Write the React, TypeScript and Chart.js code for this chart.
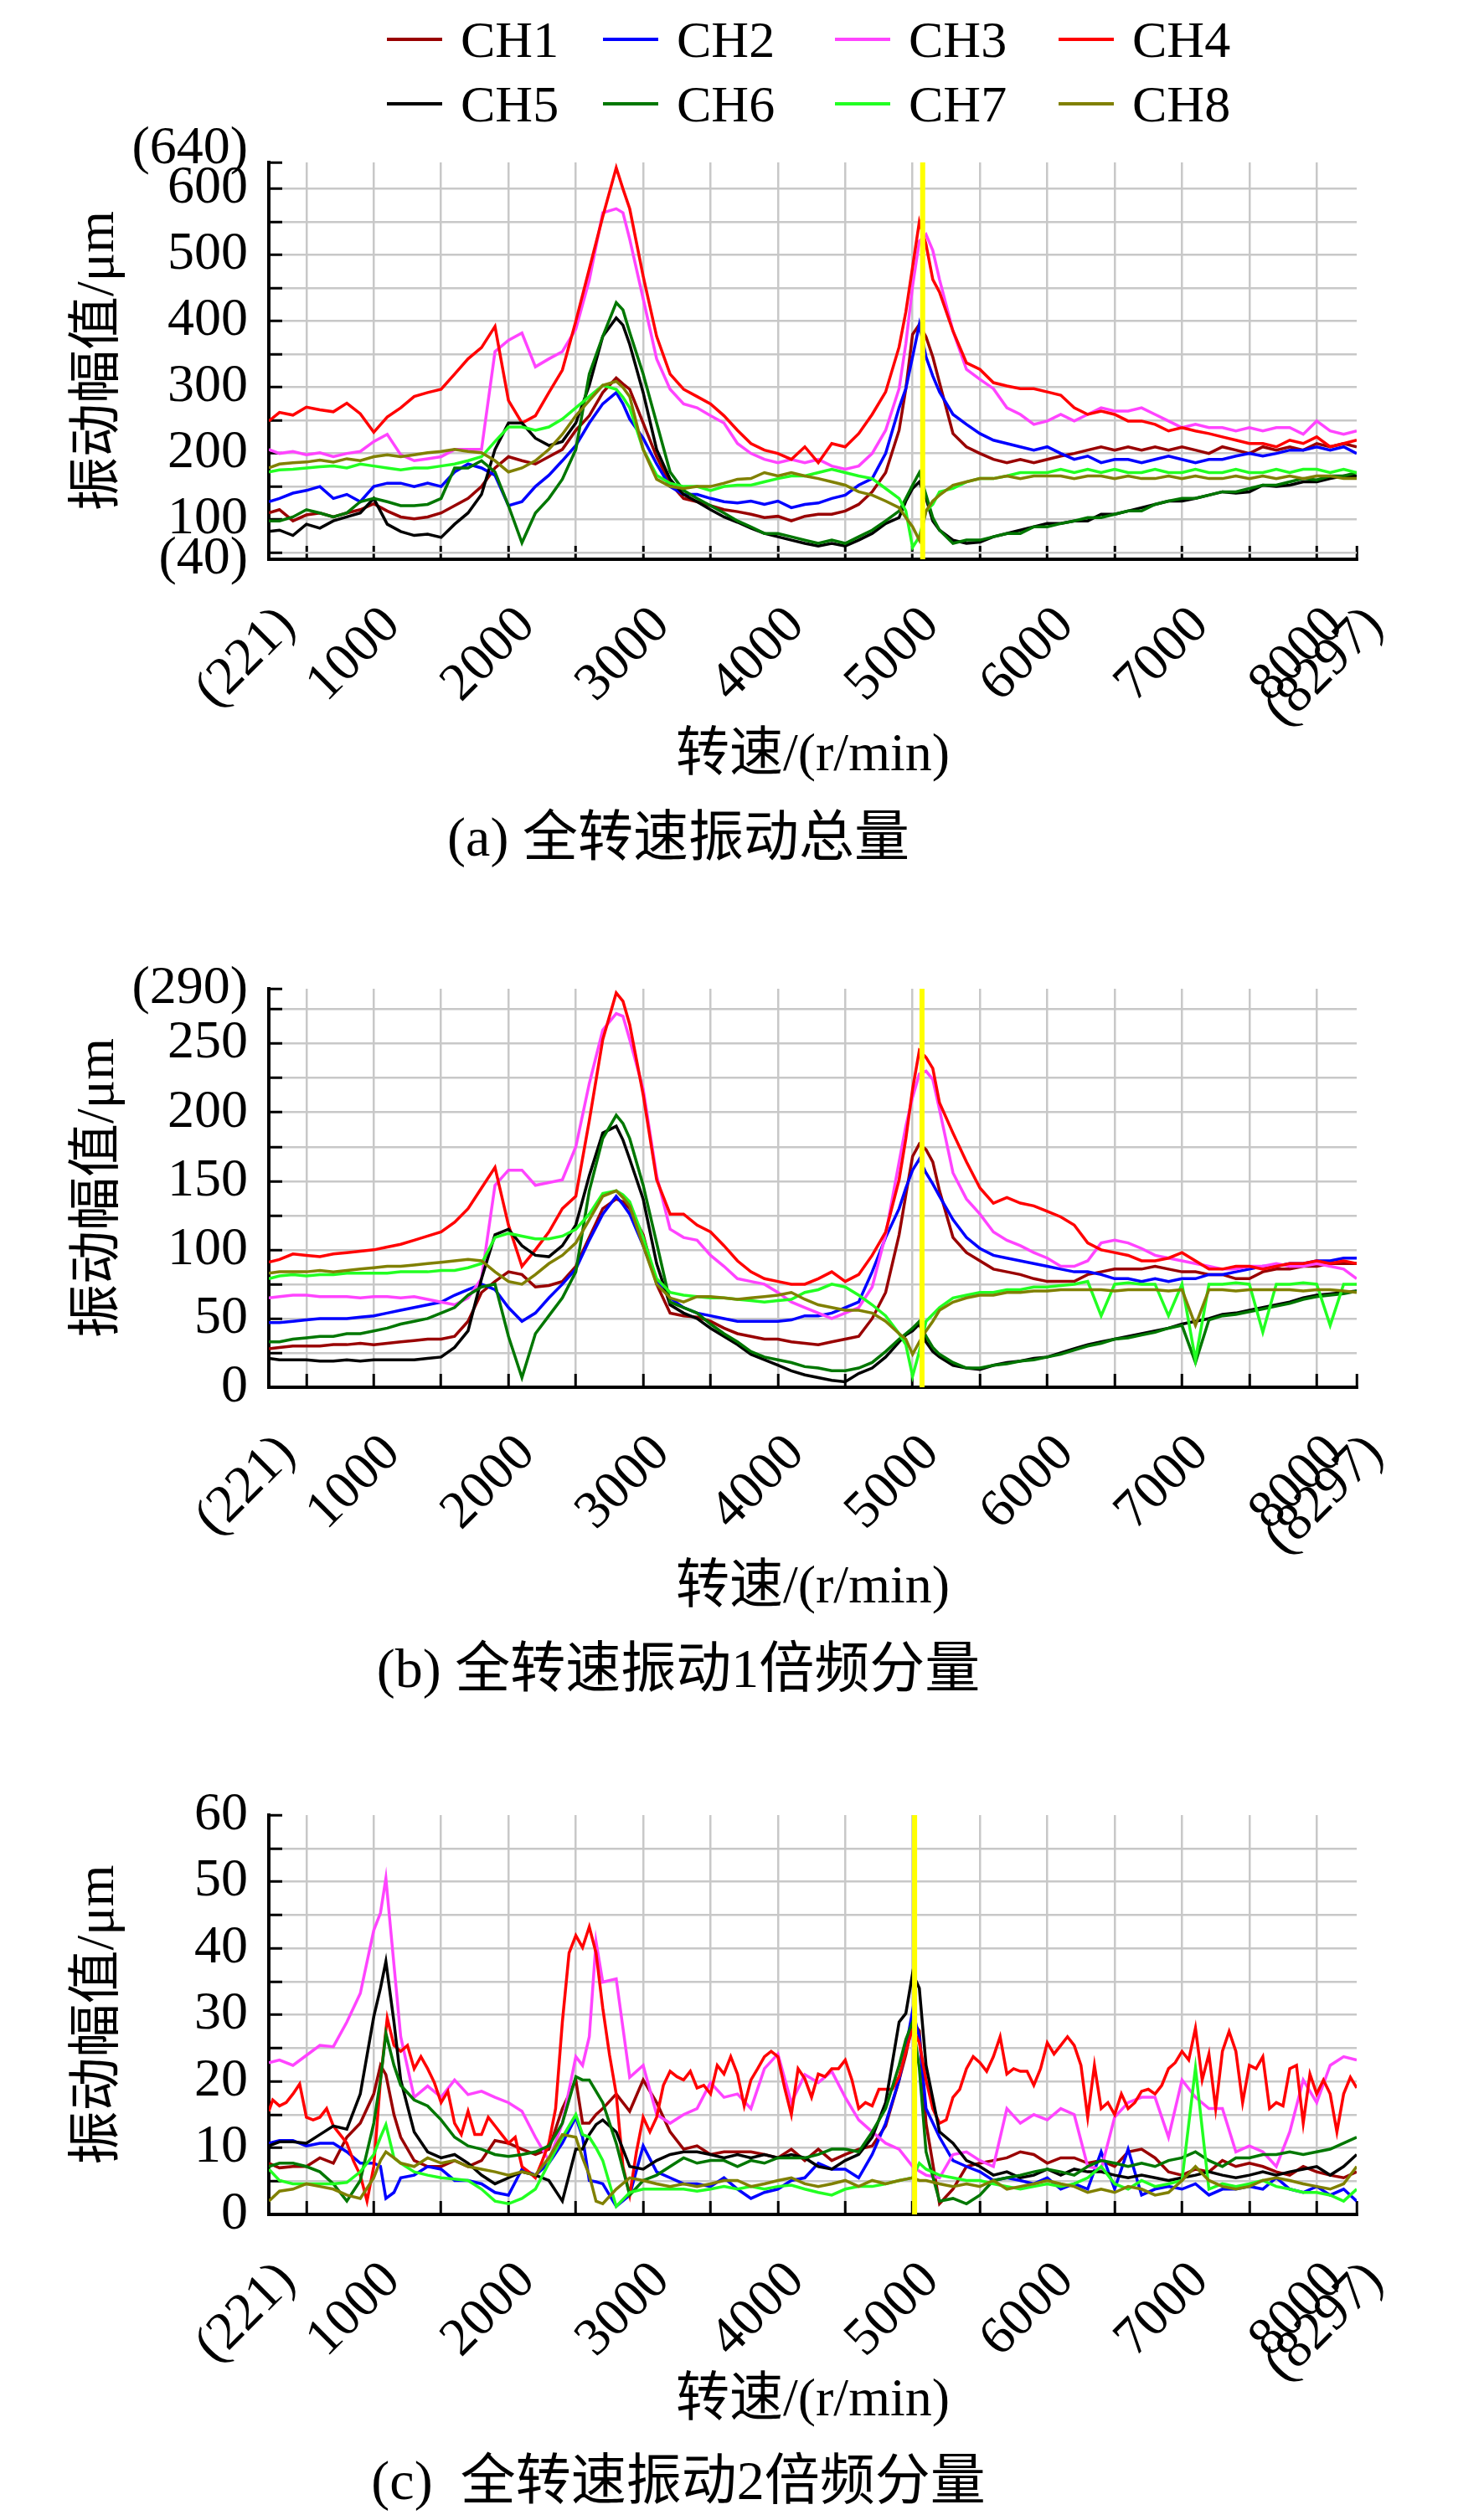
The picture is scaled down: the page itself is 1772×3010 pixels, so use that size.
import { useEffect, useRef } from "react";
import Chart from "chart.js/auto";

const FONT = '"Liberation Serif", "Noto Sans CJK SC", serif';
const GRID = "#c8c8c8";

const channels = ["CH1", "CH2", "CH3", "CH4", "CH5", "CH6", "CH7", "CH8"];
const colors = ["#990000", "#0000ff", "#ff44ff", "#ff0000", "#000000", "#007700", "#22ff22", "#808000"];

// rpm grid used by panels (a) and (b)
const rpmAB = [
  221, 300, 400, 500, 600, 700, 800, 900, 1000, 1100,
  1200, 1300, 1400, 1500, 1600, 1700, 1800, 1900, 2000, 2100,
  2200, 2300, 2400, 2500, 2600, 2700, 2800, 2850, 2900, 3000,
  3100, 3200, 3300, 3400, 3500, 3600, 3700, 3800, 3900, 4000,
  4100, 4200, 4300, 4400, 4500, 4600, 4700, 4800, 4900, 4950,
  5000, 5050, 5100, 5150, 5200, 5300, 5400, 5500, 5600, 5700,
  5800, 5900, 6000, 6100, 6200, 6300, 6400, 6500, 6600, 6700,
  6800, 6900, 7000, 7100, 7200, 7300, 7400, 7500, 7600, 7700,
  7800, 7900, 8000, 8100, 8200, 8297,
];

// rpm grid used by panel (c)
const rpmC = [
  221, 300, 400, 500, 600, 700, 800, 900, 1000, 1050,
  1090, 1150, 1200, 1300, 1400, 1500, 1600, 1700, 1800, 1900,
  2000, 2100, 2200, 2300, 2400, 2500, 2550, 2600, 2650, 2700,
  2800, 2900, 3000, 3100, 3200, 3300, 3400, 3500, 3600, 3700,
  3800, 3900, 4000, 4100, 4200, 4300, 4400, 4500, 4600, 4700,
  4800, 4900, 4950, 5000, 5050, 5100, 5200, 5300, 5400, 5500,
  5600, 5700, 5800, 5900, 6000, 6100, 6200, 6300, 6400, 6500,
  6600, 6700, 6800, 6900, 7000, 7100, 7200, 7300, 7400, 7500,
  7600, 7700, 7800, 7900, 8000, 8100, 8200, 8297,
];

// finer grid for the very jagged CH4 trace in panel (c)
const rpmCFine = [
  221, 250, 300, 350, 400, 450, 500, 550, 600, 650,
  700, 750, 800, 850, 900, 950, 1000, 1050, 1100, 1150,
  1200, 1250, 1300, 1350, 1400, 1450, 1500, 1550, 1600, 1650,
  1700, 1750, 1800, 1850, 1900, 1950, 2000, 2050, 2100, 2150,
  2200, 2250, 2300, 2350, 2400, 2450, 2500, 2550, 2600, 2650,
  2700, 2750, 2800, 2850, 2900, 2950, 3000, 3050, 3100, 3150,
  3200, 3250, 3300, 3350, 3400, 3450, 3500, 3550, 3600, 3650,
  3700, 3750, 3800, 3850, 3900, 3950, 4000, 4050, 4100, 4150,
  4200, 4250, 4300, 4350, 4400, 4450, 4500, 4550, 4600, 4650,
  4700, 4750, 4800, 4850, 4900, 4950, 5000, 5050, 5100, 5150,
  5200, 5250, 5300, 5350, 5400, 5450, 5500, 5550, 5600, 5650,
  5700, 5750, 5800, 5850, 5900, 5950, 6000, 6050, 6100, 6150,
  6200, 6250, 6300, 6350, 6400, 6450, 6500, 6550, 6600, 6650,
  6700, 6750, 6800, 6850, 6900, 6950, 7000, 7050, 7100, 7150,
  7200, 7250, 7300, 7350, 7400, 7450, 7500, 7550, 7600, 7650,
  7700, 7750, 7800, 7850, 7900, 7950, 8000, 8050, 8100, 8150,
  8200, 8250, 8297,
];

// (a) overall vibration, um
const totalCH1 = [
  110, 115, 98, 107, 110, 104, 110, 115, 124, 113,
  104, 101, 104, 110, 121, 132, 150, 178, 195, 189,
  184, 195, 206, 235, 257, 292, 314, 305, 297, 246,
  195, 155, 132, 127, 121, 115, 112, 108, 103, 105,
  98, 105, 108, 108, 113, 123, 142, 171, 235, 298,
  380, 395, 376, 346, 307, 230, 210, 200, 191, 186,
  191, 186, 191, 196, 200, 205, 210, 205, 210, 205,
  210, 205, 210, 205, 200, 210, 205, 200, 210, 205,
  210, 205, 215, 210, 215, 210,
];
const totalCH2 = [
  127, 132, 140, 144, 150, 132, 138, 127, 150, 155,
  155, 150, 155, 150, 172, 184, 178, 167, 121, 127,
  150, 167, 189, 212, 246, 275, 292, 275, 252, 223,
  184, 150, 138, 138, 132, 127, 125, 128, 123, 128,
  118, 123, 125, 132, 137, 152, 162, 200, 269, 298,
  346, 395, 346, 317, 293, 259, 244, 230, 220, 215,
  210, 205, 210, 200, 191, 196, 186, 191, 191, 186,
  191, 196, 191, 186, 191, 191, 196, 200, 196, 200,
  205, 205, 210, 205, 210, 200,
];
const totalCH3 = [
  206, 200, 203, 198, 201, 195, 200, 203, 218, 229,
  198, 189, 192, 195, 206, 206, 206, 354, 371, 382,
  331, 343, 354, 388, 462, 564, 570, 564, 524, 434,
  343, 297, 275, 269, 257, 246, 215, 200, 191, 186,
  191, 186, 191, 181, 176, 181, 200, 235, 298, 366,
  453, 521, 531, 507, 463, 385, 327, 312, 298, 269,
  259, 244, 249, 259, 249, 259, 269, 264, 264, 269,
  259, 249, 239, 244, 239, 239, 234, 239, 234, 239,
  239, 229, 249, 234, 229, 234,
];
const totalCH4 = [
  249, 262, 258, 270, 266, 263, 276, 260, 232, 255,
  269, 286, 292, 297, 320, 343, 360, 392, 280, 246,
  257, 292, 326, 400, 479, 558, 632, 600, 570, 468,
  377, 320, 297, 286, 275, 257, 235, 215, 205, 200,
  191, 210, 186, 215, 210, 230, 259, 293, 361, 414,
  482, 550, 516, 463, 444, 385, 337, 327, 307, 302,
  298, 298, 293, 288, 269, 259, 264, 259, 249, 249,
  244, 234, 239, 234, 230, 225, 220, 215, 215, 210,
  220, 215, 225, 210, 215, 220,
];
const totalCH5 = [
  82, 84, 76, 93, 87, 98, 104, 110, 132, 93,
  82, 76, 78, 73, 93, 110, 138, 206, 246, 246,
  223, 212, 218, 246, 303, 377, 405, 394, 365, 292,
  206, 161, 138, 127, 115, 104, 96, 87, 79, 74,
  69, 64, 60, 64, 60, 69, 79, 94, 103, 128,
  147, 157, 132, 98, 84, 69, 64, 66, 74, 79,
  84, 89, 94, 94, 98, 98, 108, 108, 113, 118,
  123, 128, 128, 132, 137, 142, 140, 142, 152, 150,
  152, 157, 157, 162, 166, 166,
];
const totalCH6 = [
  98, 98, 104, 115, 110, 104, 110, 127, 132, 127,
  121, 121, 123, 132, 178, 178, 189, 172, 121, 65,
  110, 132, 161, 206, 320, 377, 428, 417, 383, 320,
  246, 172, 144, 132, 121, 110, 98, 89, 79, 79,
  74, 69, 64, 69, 64, 74, 84, 98, 113, 132,
  152, 171, 137, 103, 84, 64, 69, 69, 74, 79,
  79, 89, 89, 94, 98, 103, 103, 108, 113, 113,
  123, 128, 132, 132, 137, 142, 142, 147, 152, 152,
  157, 162, 160, 166, 166, 171,
];
const totalCH7 = [
  172, 175, 176, 178, 180, 181, 178, 184, 181, 178,
  175, 178, 178, 181, 184, 189, 195, 218, 240, 240,
  235, 240, 252, 269, 286, 303, 297, 285, 269, 206,
  167, 155, 150, 150, 144, 150, 152, 152, 157, 162,
  166, 166, 171, 176, 171, 166, 162, 147, 132, 113,
  58, 74, 113, 123, 142, 147, 157, 162, 162, 166,
  171, 171, 171, 176, 171, 176, 171, 176, 171, 171,
  176, 171, 171, 176, 171, 171, 176, 171, 171, 176,
  171, 176, 176, 171, 176, 171,
];
const totalCH8 = [
  178, 184, 186, 187, 190, 187, 192, 189, 195, 198,
  195, 198, 201, 203, 206, 203, 201, 189, 172, 178,
  189, 206, 229, 257, 280, 303, 309, 300, 286, 206,
  161, 150, 147, 150, 150, 155, 161, 162, 171, 166,
  171, 166, 162, 157, 152, 142, 137, 128, 118, 103,
  89, 69, 113, 128, 137, 152, 157, 162, 162, 166,
  162, 166, 166, 166, 162, 166, 166, 162, 166, 162,
  162, 166, 162, 166, 162, 162, 166, 162, 166, 162,
  166, 162, 166, 166, 162, 162,
];

// (b) 1x component, um
const order1CH1 = [
  28, 29, 30, 30, 30, 31, 31, 32, 31, 32,
  33, 34, 35, 35, 37, 48, 69, 77, 84, 82,
  73, 74, 77, 88, 109, 130, 137, 135, 130, 111,
  75, 54, 52, 51, 48, 43, 39, 37, 35, 35,
  33, 32, 31, 33, 35, 37, 50, 69, 111, 140,
  168, 177, 173, 164, 143, 109, 98, 92, 86, 84,
  82, 79, 77, 77, 77, 82, 84, 86, 86, 86,
  88, 86, 84, 84, 82, 82, 79, 79, 84, 86,
  86, 88, 88, 90, 90, 90,
];
const order1CH2 = [
  47, 47, 48, 49, 50, 50, 50, 51, 52, 54,
  56, 58, 60, 62, 67, 71, 75, 71, 58, 48,
  54, 65, 75, 86, 107, 126, 139, 133, 126, 103,
  77, 65, 58, 54, 52, 50, 48, 48, 48, 48,
  49, 52, 52, 54, 58, 62, 84, 109, 130, 145,
  158, 166, 156, 148, 139, 122, 109, 101, 96, 94,
  92, 90, 88, 86, 84, 84, 82, 79, 79, 77,
  79, 77, 79, 79, 82, 82, 84, 86, 88, 88,
  90, 90, 92, 92, 94, 94,
];
const order1CH3 = [
  65, 66, 67, 67, 66, 66, 66, 65, 66, 66,
  65, 66, 64, 62, 60, 65, 79, 147, 158, 158,
  147, 149, 151, 175, 221, 260, 272, 270, 253, 217,
  154, 115, 109, 107, 96, 88, 79, 77, 75, 69,
  62, 58, 54, 50, 54, 58, 73, 111, 164, 190,
  211, 228, 230, 224, 202, 156, 137, 126, 113, 107,
  103, 98, 94, 88, 88, 92, 105, 107, 105, 101,
  96, 94, 92, 90, 88, 86, 86, 88, 88, 90,
  88, 88, 90, 88, 86, 79,
];
const order1CH4 = [
  91, 93, 97, 96, 95, 97, 98, 99, 100, 102,
  104, 107, 110, 113, 120, 130, 145, 160, 118, 88,
  100, 113, 130, 139, 194, 253, 287, 281, 264, 213,
  151, 126, 126, 118, 113, 103, 92, 84, 79, 77,
  75, 75, 79, 84, 77, 82, 96, 113, 151, 181,
  217, 245, 240, 232, 207, 185, 164, 145, 134, 138,
  134, 132, 128, 124, 118, 105, 100, 98, 96, 92,
  92, 94, 98, 92, 86, 86, 88, 88, 86, 88,
  90, 90, 92, 90, 92, 90,
];
const order1CH5 = [
  21, 20, 20, 20, 19, 19, 20, 19, 20, 20,
  20, 20, 21, 22, 29, 41, 79, 111, 115, 103,
  96, 95, 103, 118, 154, 185, 190, 180, 166, 137,
  90, 60, 54, 50, 43, 37, 31, 24, 20, 16,
  12, 9, 7, 5, 4, 10, 14, 22, 33, 38,
  41, 46, 33, 26, 22, 16, 14, 13, 16, 18,
  19, 21, 22, 25, 28, 31, 33, 35, 37, 39,
  41, 43, 46, 48, 50, 53, 54, 56, 58, 60,
  62, 65, 67, 68, 69, 70,
];
const order1CH6 = [
  33, 33, 35, 36, 37, 37, 39, 39, 41, 43,
  46, 48, 50, 54, 58, 67, 73, 75, 37, 7,
  39, 52, 65, 84, 143, 181, 198, 192, 181, 147,
  105, 62, 58, 54, 46, 39, 33, 26, 22, 20,
  18, 15, 14, 12, 12, 14, 18, 26, 35, 39,
  43, 48, 37, 29, 24, 18, 14, 14, 16, 17,
  19, 20, 22, 24, 27, 30, 32, 35, 36, 38,
  40, 43, 45, 18, 49, 52, 53, 55, 57, 59,
  61, 64, 66, 67, 68, 70,
];
const order1CH7 = [
  79, 81, 82, 81, 82, 82, 83, 83, 83, 83,
  84, 84, 84, 85, 85, 87, 90, 109, 112, 110,
  108, 108, 110, 115, 126, 141, 143, 140, 135, 109,
  79, 69, 67, 66, 65, 65, 64, 63, 62, 63,
  64, 69, 71, 75, 73, 67, 60, 52, 39, 31,
  8, 26, 48, 53, 58, 65, 67, 69, 69, 71,
  71, 73, 73, 74, 75, 77, 52, 75, 76, 75,
  75, 52, 75, 20, 75, 75, 76, 75, 40, 75,
  75, 76, 75, 45, 75, 75,
];
const order1CH8 = [
  83, 84, 84, 84, 85, 84, 85, 86, 87, 88,
  88, 89, 90, 91, 92, 93, 92, 84, 77, 75,
  82, 90, 96, 105, 122, 139, 143, 138, 132, 103,
  75, 65, 62, 66, 66, 65, 64, 65, 66, 67,
  69, 64, 60, 58, 56, 56, 54, 48, 39, 35,
  24, 33, 41, 48, 56, 62, 65, 67, 67, 69,
  69, 70, 70, 71, 71, 71, 71, 70, 71, 71,
  71, 70, 71, 45, 71, 71, 70, 71, 71, 71,
  71, 70, 71, 71, 70, 69,
];

// (c) 2x component, um
const order2CH1 = [
  7.7, 7, 7.2, 7.2, 8.5, 7.7, 11.6, 13.7, 18.1, 22.4,
  21, 15, 11.6, 8.1, 7.2, 7.2, 8.1, 7.2, 8.1, 11.1,
  10.7, 9.8, 9, 9.8, 15.9, 20.2, 13.7, 13.7, 15, 15.9,
  18.1, 15.5, 20.2, 16.8, 12.4, 9.8, 10.3, 9, 9.4, 9.4,
  9.4, 9, 8.5, 9.8, 8.1, 9.8, 8.1, 9, 9.8, 10.3,
  13.3, 20.2, 24, 28.9, 27.6, 13.7, 1.6, 3.8, 7.2, 7.7,
  8.1, 8.5, 9.4, 9, 7.7, 8.5, 8.5, 7.7, 8.1, 7.2,
  9.4, 9.8, 8.5, 6.4, 5.9, 6.8, 6.4, 8.1, 7.2, 7.7,
  7.2, 6.4, 5.9, 7.2, 6.4, 5.9, 5.5, 6.4,
];
const order2CH2 = [
  10.7, 11.1, 11.1, 10.3, 10.7, 10.7, 9.4, 7.7, 7.7, 7.2,
  2.4, 3.3, 5.5, 5.9, 7.2, 6.8, 5.1, 5.1, 4.6, 3.3,
  2.9, 6.8, 5.9, 7.7, 10.7, 14.6, 11.6, 5.1, 4.9, 4.6,
  1.2, 2.9, 10.3, 6.4, 5.5, 4.6, 4.6, 4.2, 5.5, 3.8,
  2.4, 3.3, 3.8, 5.1, 5.5, 7.7, 6.8, 6.8, 5.5, 9,
  13.7, 20.2, 25, 30.6, 26.7, 15.9, 11.6, 8.1, 7.2, 6.4,
  5.1, 5.5, 5.1, 4.6, 5.5, 3.8, 4.6, 3.8, 9.4, 3.8,
  9.8, 2.9, 3.8, 4.2, 3.8, 4.6, 2.9, 3.8, 3.8, 4.2,
  3.8, 5.5, 3.8, 3.3, 4.2, 2.9, 3.8, 2,
];
const order2CH3 = [
  22.8, 23.2, 22.4, 23.9, 25.4, 25.2, 28.9, 33.2, 42.7, 45.3,
  50.5, 37.5, 26.7, 17.6, 19.3, 17.6, 20.2, 18, 18.5, 17.6,
  16.8, 15.5, 11.6, 8.1, 13.7, 23.7, 22.4, 26.7, 41, 34.9,
  35.4, 20.6, 22.4, 15, 13.7, 15, 15.9, 19.8, 17.6, 18.1,
  15.9, 21.9, 24.1, 16.8, 21, 19.8, 21.5, 17.6, 14.2, 12.4,
  10.7, 9.8, 8.5, 7.2, 6.5, 5.9, 5.5, 9, 9.4, 8.1,
  7.2, 15.9, 13.7, 15, 14.2, 15.9, 15, 7.2, 6.8, 14.6,
  16.8, 17.6, 17.6, 11.6, 20.2, 17.6, 15.9, 15.9, 9.4, 10.3,
  9.4, 7.2, 12.4, 20.2, 16.8, 22.4, 23.7, 23.2,
];
const order2CH4 = [
  15.5, 17.2, 16.3, 16.8, 18.1, 19.6, 14.6, 14.2, 14.6, 15.9,
  13.3, 12, 10.7, 8, 5.9, 2, 7.2, 20.2, 29.5, 25.4,
  24.5, 25.4, 21.9, 23.7, 21.9, 19.8, 16.8, 18.5, 13.7, 12,
  15.5, 12, 12, 14.6, 13.3, 12, 10.7, 11.6, 7.2, 6.4,
  5.5, 8, 10.7, 15.9, 28.9, 39.3, 41.9, 40.1, 43.2, 39.3,
  31, 24, 18.1, 7.2, 2.9, 9.4, 14.6, 12.4, 14.6, 19.4,
  21.5, 20.7, 20.2, 21.5, 19, 19.4, 18.1, 22.4, 21.1, 23.7,
  21.1, 16.3, 20.2, 21.9, 23.7, 24.5, 23.7, 19, 15, 21.9,
  20.4, 17.6, 21.1, 20.7, 21.9, 21.9, 23.2, 20.2, 15.9, 16.8,
  16.3, 18.8, 18.8, 18.8, 20.7, 24.5, 28, 25.8, 20.2, 15.9,
  13.7, 14.2, 17.6, 18.8, 21.9, 23.7, 22.8, 21.5, 23.7, 26.7,
  21.1, 21.9, 21.5, 21.5, 19.4, 21.9, 25.8, 24.1, 25.4, 26.7,
  25.4, 22.4, 14.6, 22.4, 15.9, 16.8, 15, 18.1, 15.9, 16.8,
  18.5, 18.8, 18.1, 19.4, 21.9, 22.8, 24.5, 23.2, 28, 20.2,
  24.1, 15.9, 24.5, 27.5, 24.5, 16.8, 22.4, 21.9, 23.7, 15.9,
  16.8, 16.3, 21.9, 22.4, 13.7, 21.1, 18.1, 20.2, 18.1, 12.4,
  18.1, 20.6, 19,
];
const order2CH5 = [
  10.3, 10.9, 10.9, 10.7, 12, 13.3, 12.8, 18.1, 29.7, 34,
  38, 28.9, 20.2, 12.4, 9.4, 8.5, 9, 7.7, 5.9, 4.6,
  5.5, 6.4, 5.9, 5.1, 2, 9.8, 9.8, 12, 13.5, 14.2,
  12.4, 7.2, 6.8, 8.1, 9, 9.4, 9.4, 9, 8.5, 9,
  8.5, 9, 8.5, 9, 8.5, 7.2, 6.8, 8.1, 9, 11.6,
  16.8, 28.9, 30.2, 36.2, 34, 22.4, 12.4, 10.7, 8.1, 7.2,
  5.9, 6.4, 5.5, 5.9, 6.8, 5.9, 6.8, 6.4, 6.4, 5.9,
  5.5, 5.9, 5.5, 5.1, 5.5, 5.9, 6.4, 5.9, 5.5, 5.9,
  6.4, 5.9, 6.4, 6.8, 7.2, 5.9, 7.2, 9,
];
const order2CH6 = [
  7.2, 7.7, 7.7, 7.2, 6.4, 4.6, 2, 5.1, 13.7, 20.2,
  27.2, 22.4, 19.4, 17.2, 16.3, 14.2, 11.6, 10.3, 9.8, 9,
  8.7, 9, 9.4, 10.3, 13.7, 20.7, 20.2, 20.2, 18.5, 16.8,
  10.7, 2.9, 5.1, 5.9, 7.2, 8.5, 7.7, 8.1, 8.1, 7.2,
  8.1, 7.7, 8.5, 8.5, 8.5, 9, 9.8, 9.8, 9.4, 12.4,
  15.9, 22.4, 26.3, 28.9, 22, 9.4, 2, 2.4, 1.6, 2.9,
  5.1, 5.5, 5.9, 6.4, 6.8, 6.4, 5.9, 7.2, 8.1, 7.7,
  7.2, 7.7, 7.2, 8.1, 8.5, 9.4, 8.1, 7.2, 8.5, 8.5,
  9, 9, 9.4, 9, 9.4, 9.8, 10.7, 11.6,
];
const order2CH7 = [
  6.8, 5.1, 4.6, 4.6, 4.6, 4.6, 4.8, 6.4, 9, 11.6,
  13.5, 8.5, 7.7, 6.4, 5.9, 5.5, 5.3, 5.1, 3.8, 2,
  1.6, 2.4, 3.8, 7.7, 11.6, 15, 12, 11.6, 10, 8.1,
  1.2, 3.3, 3.8, 3.8, 3.8, 3.8, 3.5, 3.8, 4.2, 3.8,
  4.2, 3.8, 4.2, 4.4, 3.8, 3.3, 2.9, 3.8, 4.2, 4.2,
  4.6, 5.1, 5.3, 5.5, 7.7, 6.8, 5.9, 5.5, 5.1, 5.1,
  4.6, 4.2, 3.8, 4.2, 4.6, 4.2, 4.6, 5.5, 7.2, 4.6,
  3.8, 5.1, 4.2, 4.6, 5.1, 22, 3.8, 4.6, 4.2, 4.6,
  5.1, 4.2, 3.8, 3.3, 3.3, 2.9, 2, 3.8,
];
const order2CH8 = [
  2, 3.5, 3.8, 4.6, 4.2, 3.8, 2.9, 2.4, 5.5, 8.1,
  9.4, 8.5, 7.7, 7.2, 8.5, 7.7, 8.1, 7.2, 6.8, 6.4,
  5.9, 6.4, 5.9, 8.5, 12, 11.6, 8.5, 5.9, 2, 1.6,
  3.8, 5.5, 5.1, 4.6, 4.2, 4.6, 4.2, 4.6, 5.1, 5.1,
  4.2, 4.6, 5.1, 5.5, 4.6, 4.2, 4.6, 5.1, 4.2, 5.1,
  4.6, 5.1, 5.3, 5.5, 5.1, 5.1, 4.6, 4.2, 4.6, 4.2,
  5.1, 3.8, 4.2, 4.6, 5.1, 4.6, 4.2, 3.3, 3.8, 3.3,
  4.2, 3.8, 2.9, 3.3, 5.1, 7.2, 5.1, 4.2, 3.8, 4.2,
  5.1, 5.5, 5.1, 4.6, 4.2, 3.8, 4.6, 7.2,
];

const xTicks = [221, 500, 1000, 1500, 2000, 2500, 3000, 3500, 4000, 4500, 5000, 5500, 6000, 6500, 7000, 7500, 8000, 8297];
const yTicksTotal = [40, 50, 100, 150, 200, 250, 300, 350, 400, 450, 500, 550, 600, 640];
const yTicksOrder1 = [0, 25, 50, 75, 100, 125, 150, 175, 200, 225, 250, 275, 290];
const yTicksOrder2 = [0, 5, 10, 15, 20, 25, 30, 35, 40, 45, 50, 55, 60];

const xLabel = (v: number) => {
  if (v === 221) return "(221)";
  if (v === 8297) return "(8297)";
  return v % 1000 === 0 ? String(v) : "";
};

type Series = { rpm: number[]; values: number[] };

type PanelProps = {
  series: Series[];
  yMin: number;
  yMax: number;
  yTicks: number[];
  yLabel: (v: number) => string | string[];
  liftTop?: boolean;
  marker: number;
  caption: string;
  top: number;
  height: number;
  plotTop: number;
  plotBottom: number;
  titleGap: number;
  captionGap: number;
};

const Panel = ({ series, yMin, yMax, yTicks, yLabel, liftTop, marker, caption, top, height, plotTop, plotBottom, titleGap, captionGap }: PanelProps) => {
  const canvasRef = useRef<HTMLCanvasElement | null>(null);

  useEffect(() => {
    if (!canvasRef.current) return;
    const padTop = plotTop - top;
    const axisH = titleGap + (64 * 1.2) / 2;
    const capPadTop = captionGap - axisH - (66 * 1.2) / 2;
    const capBlock = capPadTop + 66 * 1.2;
    const padBottom = height - padTop - (plotBottom - plotTop) - axisH - capBlock;

    const datasets: any[] = series.map((s, i) => ({
      label: channels[i],
      data: s.rpm.map((x, j) => ({ x, y: s.values[j] })),
      borderColor: colors[i],
      borderWidth: 3.5,
      pointRadius: 0,
      tension: 0,
      fill: false,
      order: 8 - i,
    }));
    datasets.push({
      label: "marker",
      data: [
        { x: marker, y: yMin },
        { x: marker, y: yMax },
      ],
      borderColor: "#ffff00",
      borderWidth: 6,
      pointRadius: 0,
      order: -1,
    });

    const chart = new Chart(canvasRef.current, {
      type: "line",
      data: { datasets },
      options: {
        animation: false,
        responsive: true,
        maintainAspectRatio: false,
        layout: { padding: { top: padTop, left: 0, right: 152, bottom: padBottom } },
        plugins: {
          legend: { display: false },
          tooltip: { enabled: false },
          title: {
            display: true,
            position: "bottom",
            text: caption,
            color: "#000",
            font: { family: FONT, size: 66, weight: "normal" },
            padding: { top: capPadTop, bottom: 0 },
          },
        },
        scales: {
          x: {
            type: "linear",
            min: 221,
            max: 8297,
            afterBuildTicks: (scale: any) => {
              scale.ticks = xTicks.map((value) => ({ value }));
            },
            afterFit: (scale: any) => {
              scale.height = axisH;
            },
            ticks: {
              autoSkip: false,
              minRotation: 45,
              maxRotation: 45,
              padding: 58,
              labelOffset: 22,
              color: "#000",
              font: { family: FONT, size: 64 },
              callback: (v: any) => xLabel(Number(v)),
            },
            grid: {
              color: (ctx: any) => (ctx.tick && (ctx.tick.value === 221 || ctx.tick.value === 8297) ? "rgba(0,0,0,0)" : GRID),
              lineWidth: 2.5,
              tickLength: -16,
              tickColor: "#000",
              tickWidth: 3,
            },
            border: { color: "#000", width: 4 },
            title: {
              display: true,
              text: "转速/(r/min)",
              color: "#000",
              font: { family: FONT, size: 64 },
              padding: { top: 0, bottom: 0 },
            },
          },
          y: {
            min: yMin,
            max: yMax,
            afterBuildTicks: (scale: any) => {
              scale.ticks = yTicks.map((value) => ({ value }));
            },
            afterFit: (scale: any) => {
              scale.width = 321;
            },
            ticks: {
              autoSkip: false,
              padding: 41,
              color: "#000",
              // the top label of panel (a) sits a little above its tick
              font: (ctx: any) => ({
                family: FONT,
                size: 64,
                lineHeight: liftTop && ctx.tick && ctx.tick.value === yMax ? 0.5 : 1.2,
              }),
              callback: (v: any) => {
                const text = yLabel(Number(v));
                return liftTop && Number(v) === yMax ? [text as string, ""] : text;
              },
            },
            grid: {
              color: (ctx: any) => (ctx.tick && (ctx.tick.value === yMin || ctx.tick.value === yMax) ? "rgba(0,0,0,0)" : GRID),
              lineWidth: 2.5,
              tickLength: -16,
              tickColor: "#000",
              tickWidth: 3,
            },
            border: { color: "#000", width: 4 },
            title: {
              display: true,
              text: "振动幅值/μm",
              color: "#000",
              font: { family: FONT, size: 64 },
              padding: { top: 80, bottom: 0 },
            },
          },
        },
      } as any,
    });

    return () => {
      chart.destroy();
    };
  }, [series, yMin, yMax, yTicks, yLabel, liftTop, marker, caption, top, height, plotTop, plotBottom, titleGap, captionGap]);

  return (
    <div style={{ position: "absolute", left: 0, top, width: 1772, height }}>
      <canvas ref={canvasRef} />
    </div>
  );
};

const legendCols = [462, 720, 997, 1264];
const legendRows = [47, 124];

const Legend = () => (
  <>
    {channels.map((name, i) => (
      <div
        key={name}
        style={{
          position: "absolute",
          left: legendCols[i % 4],
          top: legendRows[Math.floor(i / 4)] - 40,
          height: 80,
          display: "flex",
          alignItems: "center",
          fontFamily: FONT,
          fontSize: 62,
          lineHeight: 1,
          color: "#000",
          whiteSpace: "nowrap",
        }}
      >
        <span style={{ display: "inline-block", width: 66, height: 4, background: colors[i], marginRight: 22 }} />
        <span>{name}</span>
      </div>
    ))}
  </>
);

const totalSeries: Series[] = [totalCH1, totalCH2, totalCH3, totalCH4, totalCH5, totalCH6, totalCH7, totalCH8].map((values) => ({ rpm: rpmAB, values }));
const order1Series: Series[] = [order1CH1, order1CH2, order1CH3, order1CH4, order1CH5, order1CH6, order1CH7, order1CH8].map((values) => ({ rpm: rpmAB, values }));
const order2Series: Series[] = [order2CH1, order2CH2, order2CH3, order2CH4, order2CH5, order2CH6, order2CH7, order2CH8].map((values, i) => ({
  rpm: i === 3 ? rpmCFine : rpmC,
  values,
}));

const labelTotal = (v: number) => (v === 40 ? "(40)" : v === 640 ? "(640)" : v % 100 === 0 ? String(v) : "");
const labelOrder1 = (v: number) => (v === 290 ? "(290)" : v % 50 === 0 ? String(v) : "");
const labelOrder2 = (v: number) => (v % 10 === 0 ? String(v) : "");

export default function App() {
  return (
    <div style={{ position: "absolute", left: 0, top: 0, width: 1772, height: 3010, background: "#fff", overflow: "hidden" }}>
      <Panel
        series={totalSeries}
        yMin={40}
        yMax={640}
        yTicks={yTicksTotal}
        yLabel={labelTotal}
        liftTop
        marker={5075}
        caption="(a) 全转速振动总量"
        top={100}
        height={960}
        plotTop={194}
        plotBottom={668}
        titleGap={235}
        captionGap={337}
      />
      <Panel
        series={order1Series}
        yMin={0}
        yMax={290}
        yTicks={yTicksOrder1}
        yLabel={labelOrder1}
        marker={5070}
        caption="(b) 全转速振动1倍频分量"
        top={1087}
        height={970}
        plotTop={1181}
        plotBottom={1657}
        titleGap={240}
        captionGap={341}
      />
      <Panel
        series={order2Series}
        yMin={0}
        yMax={60}
        yTicks={yTicksOrder2}
        yLabel={labelOrder2}
        marker={5015}
        caption="(c)  全转速振动2倍频分量"
        top={2074}
        height={936}
        plotTop={2168}
        plotBottom={2645}
        titleGap={223}
        captionGap={323}
      />
      <Legend />
    </div>
  );
}
